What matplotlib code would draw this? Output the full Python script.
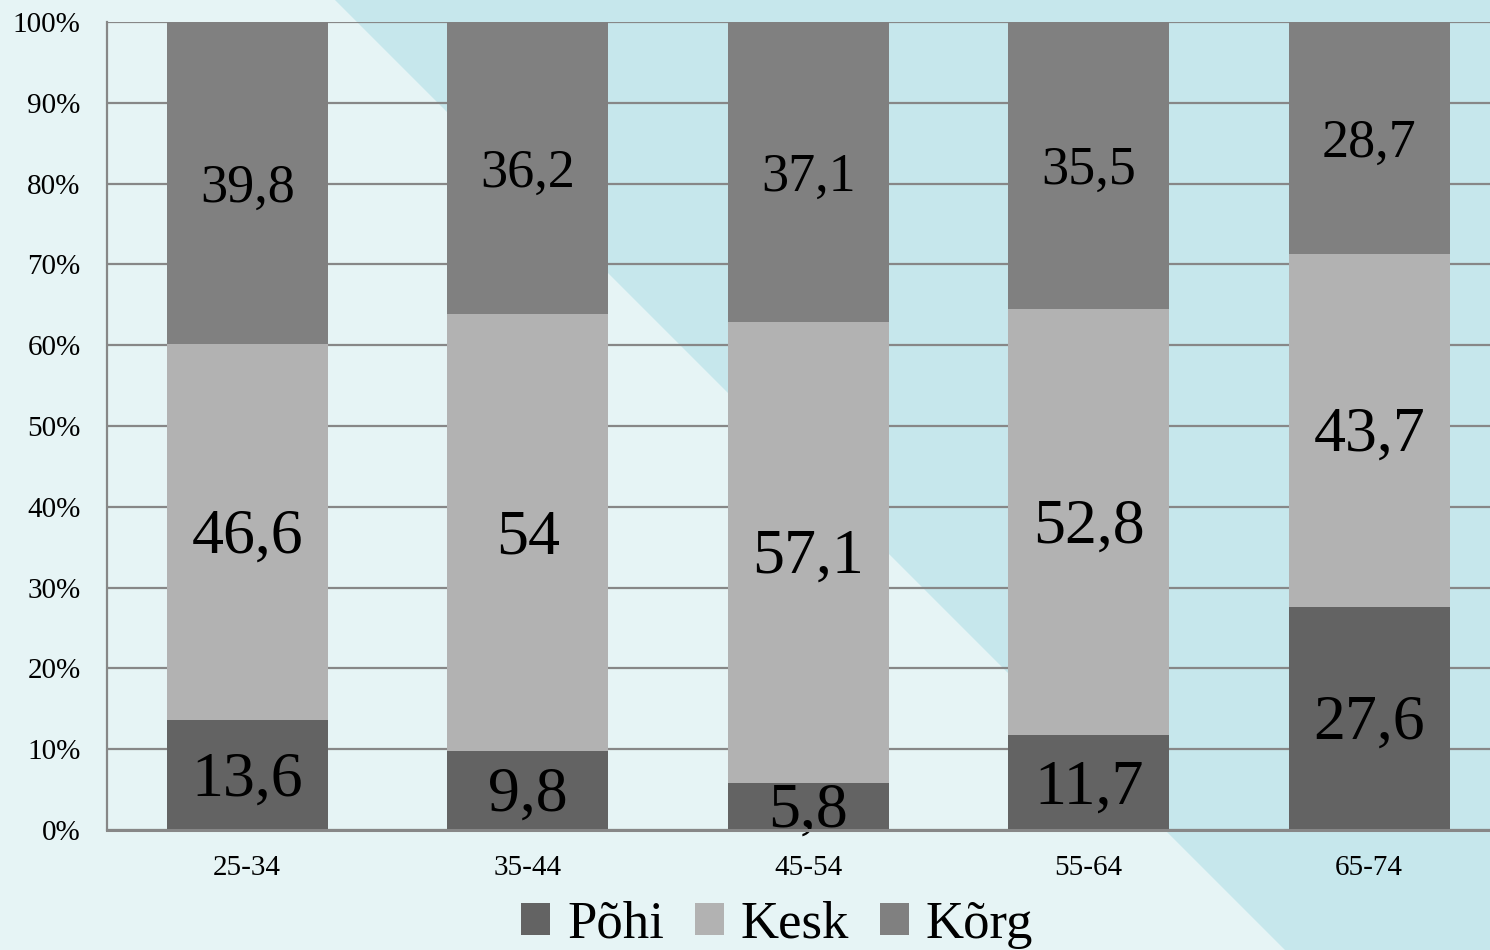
import numpy as np
import matplotlib.pyplot as plt
from matplotlib.patches import Polygon

plt.rcParams['font.family'] = ['Liberation Serif', 'DejaVu Serif']

# Vanuserühmad ja haridustaseme jaotus (%)
groups = ['25-34', '35-44', '45-54', '55-64', '65-74']
pohi = [13.6, 9.8, 5.8, 11.7, 27.6]
kesk = [46.6, 54, 57.1, 52.8, 43.7]
korg = [39.8, 36.2, 37.1, 35.5, 28.7]
series_names = ['Põhi', 'Kesk', 'Kõrg']
yticks = [0, 10, 20, 30, 40, 50, 60, 70, 80, 90, 100]

colors = ['#636363', '#b2b2b2', '#808080']
label_sizes = [46, 46, 39]
bg_light = '#e6f4f5'
bg_dark = '#c6e7ec'
grid_col = '#878787'

fig = plt.figure(figsize=(14.9, 9.5), dpi=100, facecolor=bg_light)

# diagonaalne taust omaette teljestikul
bg = fig.add_axes([0, 0, 1, 1], zorder=-10)
bg.set_xlim(0, 1490)
bg.set_ylim(950, 0)
bg.axis('off')
bg.add_patch(Polygon([(335, 0), (1490, 0), (1490, 950), (1285, 950)],
                     closed=True, facecolor=bg_dark, edgecolor='none'))

ax = fig.add_axes([107 / 1490, 1 - 830 / 950, 1402.5 / 1490, 808 / 950])
ax.patch.set_alpha(0)

x = np.arange(len(groups))
width = 0.574
bottom = np.zeros(len(groups))
for vals, name, col, fs in zip([pohi, kesk, korg], series_names, colors, label_sizes):
    vals = np.array(vals, dtype=float)
    ax.bar(x, vals, width, bottom=bottom, color=col, label=name, zorder=2)
    for xi, b, v in zip(x, bottom, vals):
        txt = f'{v:g}'.replace('.', ',')
        ax.annotate(txt, (xi, b + v / 2), xytext=(0, -4), textcoords='offset points',
                    ha='center', va='center', fontsize=fs, color='black',
                    zorder=4, annotation_clip=False)
    bottom += vals

ax.set_xlim(-0.5, len(groups) - 0.5)
ax.set_ylim(0, 100)
ax.set_yticks(yticks)
ax.set_yticklabels([f'{t}%' for t in yticks])
ax.set_xticks(x)
ax.set_xticklabels(groups)
ax.tick_params(axis='both', length=0, labelsize=21)
ax.tick_params(axis='y', pad=19)
ax.tick_params(axis='x', pad=18)

ax.yaxis.grid(True, color=grid_col, linewidth=1.6, zorder=1)
ax.set_axisbelow(True)
for s in ['top', 'right']:
    ax.spines[s].set_visible(False)
ax.spines['left'].set_color(grid_col)
ax.spines['left'].set_linewidth(1.6)
ax.spines['bottom'].set_color(grid_col)
ax.spines['bottom'].set_linewidth(2.2)
ax.spines['bottom'].set_zorder(5)

ax.legend(loc='center', bbox_to_anchor=(777 / 1490, 1 - 925 / 950),
          bbox_transform=fig.transFigure, ncol=3, frameon=False,
          fontsize=38, handlelength=0.55, handleheight=0.55,
          handletextpad=0.32, columnspacing=0.58, borderpad=0)

fig.savefig('out.png', dpi=100, facecolor=bg_light)
